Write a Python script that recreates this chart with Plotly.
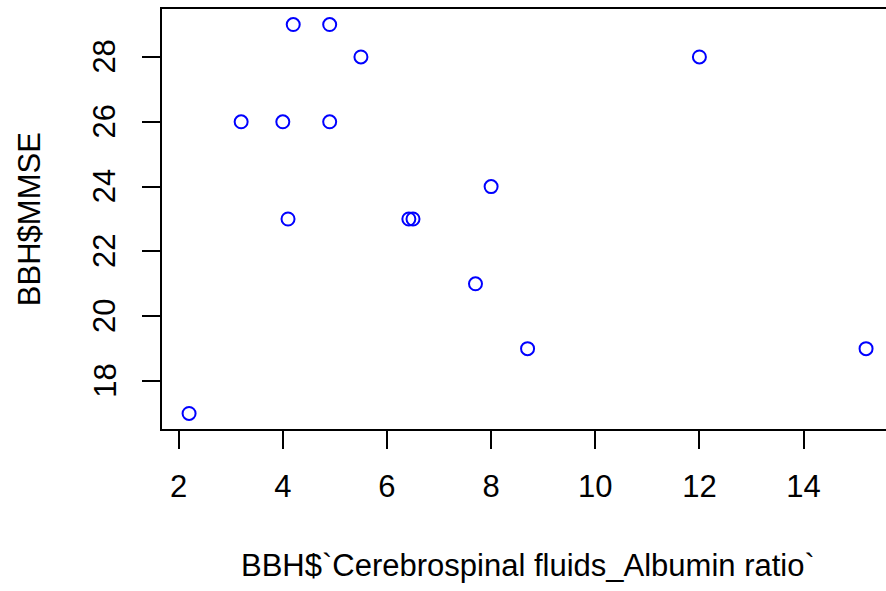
import plotly.graph_objects as go

# Data
albumin_ratio = [2.2, 3.2, 4.0, 4.1, 4.2, 4.9, 4.9, 5.5, 6.42, 6.5, 7.7, 8.0, 8.7, 12.0, 15.2]
mmse = [17, 26, 26, 23, 29, 29, 26, 28, 23, 23, 21, 24, 19, 28, 19]

x_ticks = [2, 4, 6, 8, 10, 12, 14]
y_ticks = [18, 20, 22, 24, 26, 28]
y_tick_labels = ["18", "20", "22", "24", "26", "28"]

x_title = "BBH$`Cerebrospinal fluids_Albumin ratio`"
y_title = "BBH$MMSE"

FONT = "Liberation Sans, Arial, sans-serif"
FS = 31

fig = go.Figure()
fig.add_trace(go.Scatter(
    x=albumin_ratio, y=mmse, mode="markers",
    marker=dict(symbol="circle-open", size=13, color="#0000FF",
                line=dict(width=2, color="#0000FF")),
    showlegend=False, hoverinfo="x+y",
))

annotations = [
    dict(text=x_title, xref="x", yref="paper", x=8.705, y=-0.3254,
         xanchor="center", yanchor="middle", showarrow=False,
         font=dict(family=FONT, size=FS, color="black")),
    dict(text=y_title, xref="paper", yref="paper", x=-0.1835, y=0.5,
         xanchor="center", yanchor="middle", textangle=-90, showarrow=False,
         font=dict(family=FONT, size=FS, color="black")),
]
for v, lab in zip(y_ticks, y_tick_labels):
    annotations.append(dict(
        text=lab, xref="paper", yref="y", x=-0.0792, y=v,
        xanchor="center", yanchor="middle", textangle=-90, showarrow=False,
        font=dict(family=FONT, size=FS, color="black")))

fig.update_layout(
    width=886, height=591,
    margin=dict(l=162.3, r=0, t=9.4, b=162.4),
    paper_bgcolor="white", plot_bgcolor="white",
    font=dict(family=FONT, size=FS, color="black"),
    xaxis=dict(
        range=[1.68, 15.583], tickvals=x_ticks, ticktext=[str(v) for v in x_ticks],
        showgrid=False, zeroline=False,
        showline=True, mirror=True, linecolor="black", linewidth=2,
        ticks="outside", ticklen=18, tickwidth=2, tickcolor="black",
        ticklabelstandoff=11,
        tickfont=dict(family=FONT, size=FS, color="black"),
    ),
    yaxis=dict(
        range=[16.52, 29.48], tickvals=y_ticks, showticklabels=False,
        showgrid=False, zeroline=False,
        showline=True, mirror=False, linecolor="black", linewidth=2,
        ticks="outside", ticklen=18, tickwidth=2, tickcolor="black",
    ),
    annotations=annotations,
)

fig.write_html("out.html")
